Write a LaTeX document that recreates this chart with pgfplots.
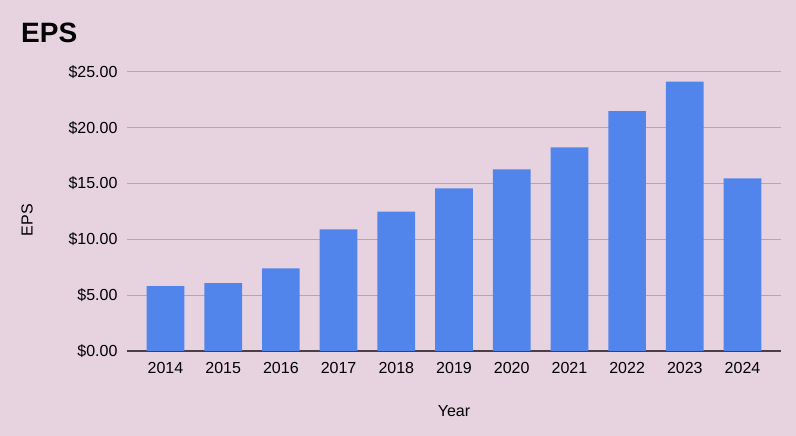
\documentclass[border=0pt]{standalone}
\usepackage{pgfplots}
\pgfplotsset{compat=1.18}
\usepackage{fontspec}
\setmainfont{Liberation Sans}
\definecolor{bg}{RGB}{230,211,223}
\definecolor{barc}{RGB}{82,133,236}
\definecolor{gridc}{RGB}{184,163,176}
\definecolor{axc}{RGB}{74,63,69}
\begin{document}
\begin{tikzpicture}[x=1bp,y=1bp]
\fill[bg] (-127,-85) rectangle (669,351);
\begin{axis}[
  at={(0,0)}, anchor=south west,
  scale only axis, width=654bp, height=279bp,
  ybar, bar width=37.7bp,
  xmin=-0.667, xmax=10.667, ymin=0, ymax=25,
  xtick=data,
  xticklabels={2014,2015,2016,2017,2018,2019,2020,2021,2022,2023,2024},
  ytick={0,5,10,15,20,25},
  yticklabels={\$0.00,\$5.00,\$10.00,\$15.00,\$20.00,\$25.00},
  major tick length=0pt,
  axis x line=bottom, axis y line=left,
  x axis line style={-, draw=axc, line width=1.5bp},
  y axis line style={draw=none},
  ymajorgrids, grid style={draw=gridc, line width=1bp},
  tick label style={font=\fontsize{16bp}{19bp}\selectfont, text=black},
  yticklabel style={xshift=-6bp},
  xticklabel style={yshift=-7.5bp},
  clip=false,
]
\addplot[fill=barc, draw=none] coordinates {
(0,5.82) (1,6.08) (2,7.41) (3,10.90) (4,12.48) (5,14.58) (6,16.28) (7,18.25) (8,21.50) (9,24.13) (10,15.47)};
\end{axis}
\node[anchor=base west, font=\fontsize{28bp}{32bp}\selectfont\bfseries, inner sep=0] at (-106,308) {EPS};
\node[rotate=90, font=\fontsize{16bp}{19bp}\selectfont, inner sep=0] at (-100,131) {EPS};
\node[font=\fontsize{16bp}{19bp}\selectfont, inner sep=0] at (327,-60) {Year};
\pgfresetboundingbox
\useasboundingbox (-127,-85) rectangle (669,351);
\end{tikzpicture}
\end{document}
